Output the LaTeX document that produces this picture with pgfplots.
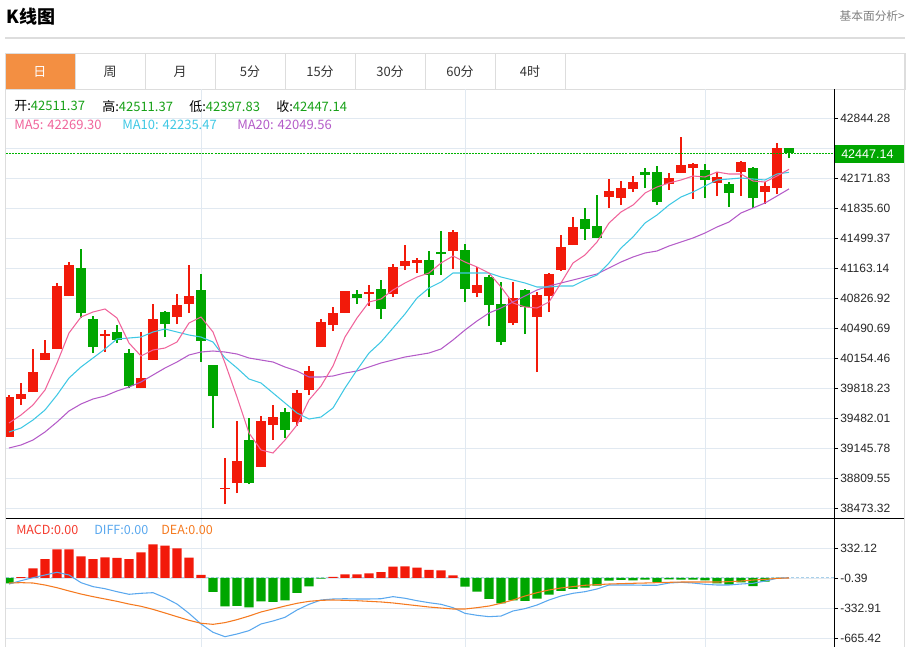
\documentclass[border=0pt]{standalone}
\usepackage{pgfplots}
\pgfplotsset{compat=1.18}
\usepackage{pgfplotstable}
\usepackage{fontspec}
\setmainfont{Noto Sans CJK SC}
\newfontfamily\lib{Liberation Sans}
\definecolor{cred}{HTML}{F21A0A}
\definecolor{cgreen}{HTML}{00A600}
\definecolor{cdash}{HTML}{00B400}
\definecolor{cma5}{HTML}{F0649B}
\definecolor{cma10}{HTML}{40C8E4}
\definecolor{cma20}{HTML}{B45CC8}
\definecolor{cdiff}{HTML}{5AA8EE}
\definecolor{cdea}{HTML}{F57A20}
\definecolor{gridc}{HTML}{E1E9F1}
\definecolor{tabor}{HTML}{F38F42}
\definecolor{borderc}{HTML}{DDDDDD}
\definecolor{valgreen}{HTML}{16A016}
\definecolor{txt}{HTML}{333333}
\definecolor{zeroc}{HTML}{A8D0EA}

\pgfplotstableread{
i o h l c
0 39269.1 39739.8 39269.1 39717.4
1 39695.0 39874.3 39627.7 39751.0
2 39773.4 40255.4 39773.4 39997.6
3 40132.1 40356.2 40132.1 40210.5
4 40255.4 40995.1 40255.4 40961.4
5 40849.4 41230.4 40849.4 41196.8
8 40401.1 40468.3 40221.7 40423.5
11 39818.3 40445.9 39818.3 39930.3
12 40132.1 40759.7 40132.1 40591.6
14 40614.0 40871.8 40535.6 40748.5
15 40759.7 41196.8 40658.8 40849.4
18 38686.3 39033.7 38518.2 38697.5
19 38753.6 39448.4 38641.5 39000.1
21 38932.9 39504.5 38932.9 39448.4
22 39403.6 39627.7 39235.5 39493.3
24 39437.2 39795.9 39392.4 39762.2
25 39795.9 40064.8 39739.8 40008.8
26 40277.8 40591.6 40277.8 40558.0
27 40524.3 40726.1 40457.1 40658.8
28 40658.8 40905.4 40658.8 40905.4
30 40871.8 40972.6 40737.3 40894.2
32 40871.8 41208.0 40838.1 41174.4
33 41185.6 41420.9 41140.7 41241.6
34 41219.2 41275.2 41107.1 41252.8
37 41353.7 41589.1 41152.0 41566.6
39 40883.0 41174.4 40838.1 40972.6
42 40546.8 41006.3 40524.3 40826.9
44 40614.0 40894.2 39997.6 40860.6
45 40849.4 41107.1 40670.0 41095.9
46 41140.7 41533.0 41129.6 41398.5
47 41420.9 41734.8 41420.9 41622.7
50 41958.9 42160.6 41835.6 42026.2
51 41947.7 42138.2 41869.2 42059.8
52 42048.6 42194.3 42014.9 42127.0
55 42104.6 42227.9 42037.4 42171.8
56 42227.9 42631.4 42227.9 42317.5
57 42283.9 42340.0 41936.5 42328.8
59 42115.8 42239.1 41970.1 42183.1
61 42239.1 42362.4 41970.1 42351.2
63 42014.9 42127.0 41880.5 42082.2
64 42059.8 42564.1 41992.5 42508.1
}\upTab

\pgfplotstableread{
i o h l c
6 41163.1 41376.1 40602.8 40658.8
7 40591.6 40625.2 40210.5 40277.8
9 40445.9 40524.3 40322.6 40356.2
10 40210.5 40255.4 39818.3 39840.7
13 40670.0 40681.3 40389.9 40535.6
16 40916.6 41095.9 40109.7 40345.0
17 40076.0 40076.0 39370.0 39728.6
20 39235.5 39482.0 38742.3 38753.6
23 39549.3 39594.1 39257.9 39347.6
29 40871.8 40916.6 40759.7 40826.9
31 40927.8 41028.7 40591.6 40703.6
35 41252.8 41353.7 40838.1 41084.7
36 41342.5 41577.9 41084.7 41320.1
38 41364.9 41432.2 40782.1 40927.8
40 41062.3 41084.7 40513.1 40748.5
41 40759.7 41006.3 40300.2 40333.8
43 40916.6 40927.8 40423.5 40726.1
48 41712.3 41835.6 41477.0 41600.3
49 41633.9 41981.3 41499.4 41499.4
53 42239.1 42283.9 42059.8 42205.5
54 42239.1 42306.3 41869.2 41902.9
58 42261.5 42328.8 41947.7 42149.4
60 42104.6 42127.0 41846.8 42003.7
62 42283.9 42295.1 41835.6 41947.7
65 42511.37 42511.37 42397.83 42447.14
}\dnTab

\pgfplotstableread{
i ma5 ma10 ma20 macd dif dea
0 39426.0 39325.1 39145.8 -59 -67 -56
1 39515.7 39370.0 39179.4 10 -30 -52
2 39627.7 39459.6 39235.5 107 3 -56
3 39795.9 39571.7 39325.1 210 33 -78
4 40098.5 39739.8 39437.2 318 63 -108
5 40434.7 39930.3 39560.5 318 33 -144
6 40614.0 40053.6 39639.0 240 -52 -178
7 40670.0 40154.5 39695.0 210 -96 -207
8 40703.6 40255.4 39728.6 229 -119 -233
9 40602.8 40367.4 39784.7 222 -152 -259
10 40322.6 40378.6 39829.5 210 -181 -289
11 40176.9 40389.9 39885.5 284 -170 -314
12 40244.2 40445.9 39964.0 373 -163 -348
13 40266.6 40479.5 40042.4 358 -219 -388
14 40333.8 40445.9 40109.7 329 -289 -429
15 40546.8 40412.3 40188.1 225 -392 -469
16 40614.0 40389.9 40221.7 33 -510 -502
17 40445.9 40333.8 40233.0 -155 -602 -514
18 40098.5 40154.5 40221.7 -314 -651 -495
19 39717.4 40042.4 40199.3 -310 -621 -462
20 39313.9 39919.1 40154.5 -325 -584 -422
21 39123.4 39874.3 40132.1 -259 -510 -377
22 39089.8 39762.2 40109.7 -266 -477 -344
23 39235.5 39650.2 40053.6 -248 -436 -311
24 39403.6 39538.1 40008.8 -166 -355 -281
25 39683.8 39470.8 39941.6 -92 -292 -259
26 39840.7 39493.3 39941.6 -7 -244 -248
27 40064.8 39594.1 39952.8 11 -233 -244
28 40389.9 39818.3 39986.4 41 -230 -248
29 40602.8 40020.0 40008.8 41 -233 -252
30 40782.1 40210.5 40053.6 52 -233 -259
31 40815.7 40333.8 40098.5 66 -230 -266
32 40916.6 40490.7 40132.1 126 -207 -277
33 40995.1 40647.6 40165.7 129 -225 -292
34 41062.3 40826.9 40188.1 115 -252 -307
35 41107.1 40939.0 40210.5 89 -274 -322
36 41219.2 41006.3 40255.4 85 -292 -333
37 41297.7 41107.1 40356.2 30 -329 -344
38 41230.4 41107.1 40468.3 -96 -392 -344
39 41174.4 41107.1 40569.2 -151 -414 -329
40 41107.1 41107.1 40658.8 -233 -429 -311
41 40950.2 41062.3 40714.9 -281 -422 -281
42 40770.9 41028.7 40782.1 -248 -366 -244
43 40726.1 40995.1 40849.4 -255 -340 -200
44 40714.9 40950.2 40916.6 -229 -300 -163
45 40782.1 40950.2 40961.4 -185 -244 -133
46 40995.1 40961.4 40995.1 -144 -200 -111
47 41219.2 40961.4 41028.7 -122 -170 -96
48 41308.9 41028.7 41062.3 -107 -152 -81
49 41454.6 41084.7 41095.9 -85 -122 -74
50 41667.5 41219.2 41163.1 -30 -78 -67
51 41790.8 41387.3 41230.4 -22 -78 -63
52 41869.2 41510.6 41286.5 -26 -78 -59
53 42003.7 41667.5 41331.3 -18 -81 -56
54 42071.0 41757.2 41353.7 -44 -81 -52
55 42115.8 41869.2 41409.7 -15 -56 -48
56 42149.4 41958.9 41454.6 -18 -48 -45
57 42194.3 42014.9 41499.4 -18 -56 -45
58 42183.1 42082.2 41555.4 -26 -70 -45
59 42239.1 42149.4 41622.7 -59 -78 -45
60 42216.7 42160.6 41678.7 -74 -78 -41
61 42216.7 42171.8 41779.6 -48 -67 -34
62 42138.2 42160.6 41835.6 -89 -59 -23
63 42127.0 42149.4 41891.7 -41 -34 -15
64 42194.3 42216.7 41970.1 -7 -4 -4
65 42269.30 42235.47 42049.56 0 3 0
}\mainTab

\pgfplotstableread{
x y
-0.25 42447.14
68.75 42447.14
}\lastTab

\begin{document}
\begin{tikzpicture}
\useasboundingbox (0,0) rectangle (681pt,-485.25pt);
\begin{scope}[x=0.75pt,y=-0.75pt]
  % title
  \node[anchor=west, inner sep=0, font=\bfseries\fontsize{13.5}{15}\selectfont] at (6,17) {K线图};
  \node[anchor=east, inner sep=0, text=black!50, font=\fontsize{8.8}{10}\selectfont] at (905,16) {基本面分析>};
  \draw[borderc, line width=1.2pt] (5,38) -- (905,38);
  % container borders
  \draw[borderc, line width=0.75pt] (5,53) -- (5,647);
  \draw[borderc, line width=0.75pt] (904,53) -- (904,647);
  % tabs
  \fill[tabor] (5,53) rectangle (75,89);
  \draw[borderc, line width=0.75pt] (5,53) rectangle (905,89);
  \foreach \x in {75,145,215,285,355,425,495,565} \draw[borderc, line width=0.75pt] (\x,53) -- (\x,89);
  \node[text=white, font=\fontsize{9.75}{11}\selectfont] at (40,71.5) {日};
  \foreach \x/\t in {110/周,180/月,250/5分,320/15分,390/30分,460/60分,530/4时}
    \node[text=txt, font=\fontsize{9.75}{11}\selectfont] at (\x,71.5) {\t};
\end{scope}

\begin{axis}[
  at={(4.5pt,-388.5pt)}, anchor=south west, scale only axis,
  width=621pt, height=321.75pt,
  xmin=-0.25, xmax=68.75, ymin=38361.28, ymax=43169.3,
  axis line style={draw=none},
  scaled y ticks=false, scaled x ticks=false,
  xtick={16,38,58}, xticklabels={}, xtick style={draw=none},
  xmajorgrids, ymajorgrids, grid style={gridc, line width=0.75pt},
  ytick={38473.32,38809.55,39145.78,39482.01,39818.23,40154.46,40490.69,40826.92,41163.14,41499.37,41835.60,42171.83,42508.05,42844.28},
  yticklabels={38473.32,38809.55,39145.78,39482.01,39818.23,40154.46,40490.69,40826.92,41163.14,41499.37,41835.60,42171.83,{},42844.28},
  ytick pos=right, yticklabel pos=right, tick align=outside,
  major tick length=3pt,
  ytick style={draw=black, line width=0.6pt},
  yticklabel style={font=\lib\fontsize{9}{10}\selectfont, inner sep=0pt, xshift=1.5pt, text=black!85},
]
% wicks
\addplot[draw=none, mark=none, forget plot,
  error bars/.cd, y dir=plus, y explicit, error mark=none,
  error bar style={draw=cred, line width=0.9pt}]
  table[x=i, y=l, y error plus expr=\thisrow{h}-\thisrow{l}] {\upTab};
\addplot[draw=none, mark=none, forget plot,
  error bars/.cd, y dir=plus, y explicit, error mark=none,
  error bar style={draw=cgreen, line width=0.9pt}]
  table[x=i, y=l, y error plus expr=\thisrow{h}-\thisrow{l}] {\dnTab};
% bodies
\addplot[draw=none, mark=none, forget plot,
  error bars/.cd, y dir=plus, y explicit, error mark=none,
  error bar style={draw=cred, line width=6.9pt}]
  table[x=i, y=o, y error plus expr=\thisrow{c}-\thisrow{o}] {\upTab};
\addplot[draw=none, mark=none, forget plot,
  error bars/.cd, y dir=plus, y explicit, error mark=none,
  error bar style={draw=cgreen, line width=6.9pt}]
  table[x=i, y=c, y error plus expr=\thisrow{o}-\thisrow{c}] {\dnTab};
% moving averages
\addplot[cma20, line width=0.8pt, mark=none] table[x=i, y=ma20] {\mainTab};
\addplot[cma10, line width=0.8pt, mark=none] table[x=i, y=ma10] {\mainTab};
\addplot[cma5, line width=0.8pt, mark=none] table[x=i, y=ma5] {\mainTab};
\end{axis}

% overlay axis for the last-close reference line
\begin{axis}[
  at={(4.5pt,-388.5pt)}, anchor=south west, scale only axis,
  width=621pt, height=321.75pt,
  xmin=-0.25, xmax=68.75, ymin=38361.28, ymax=43169.3,
  hide axis,
]
\addplot[cdash, line width=0.8pt, dash pattern=on 1.5pt off 0.8pt, mark=none] table[x=x, y=y] {\lastTab};
\end{axis}

\begin{axis}[
  at={(4.5pt,-485.25pt)}, anchor=south west, scale only axis,
  width=621pt, height=96.75pt,
  xmin=-0.25, xmax=68.75, ymin=-765.2, ymax=664.6,
  axis line style={draw=none},
  scaled y ticks=false, scaled x ticks=false,
  xtick={16,38,58}, xticklabels={}, xtick style={draw=none},
  xmajorgrids, ymajorgrids, grid style={gridc, line width=0.75pt},
  ytick={-665.42,-332.91,-0.39,332.12},
  yticklabels={-665.42,-332.91,-0.39,332.12},
  ytick pos=right, yticklabel pos=right, tick align=outside,
  major tick length=3pt,
  ytick style={draw=black, line width=0.6pt},
  yticklabel style={font=\lib\fontsize{9}{10}\selectfont, inner sep=0pt, xshift=1.5pt, text=black!85},
]
\addplot[zeroc, line width=0.75pt, dash pattern=on 2.25pt off 1.5pt, mark=none] coordinates {(-0.25,0) (68.75,0)};
\addplot[ybar, bar width=6.9pt, bar shift=0pt, fill=cred, draw=none, restrict y to domain=0.5:2000] table[x=i, y=macd] {\mainTab};
\addplot[ybar, bar width=6.9pt, bar shift=0pt, fill=cgreen, draw=none, restrict y to domain=-2000:-0.5] table[x=i, y=macd] {\mainTab};
\addplot[cdiff, line width=0.8pt, mark=none] table[x=i, y=dif] {\mainTab};
\addplot[cdea, line width=0.8pt, mark=none] table[x=i, y=dea] {\mainTab};
\end{axis}

\begin{scope}[x=0.75pt,y=-0.75pt]
  \draw[black, line width=0.75pt] (834,89) -- (834,647);
  \draw[black, line width=0.75pt] (6,518) -- (904,518);
  % last price label
  \fill[cgreen] (835,145) rectangle (904,162.5);
  \node[anchor=west, inner sep=0, text=white, font=\lib\fontsize{9.4}{10}\selectfont] at (841,154) {42447.14};
  % info text
  \begin{scope}[every node/.style={anchor=west, inner sep=0, font=\fontsize{9.75}{11}\selectfont}]
    \node at (14,106.5) {开:\textcolor{valgreen}{42511.37}};
    \node at (102,106.5) {高:\textcolor{valgreen}{42511.37}};
    \node at (189,106.5) {低:\textcolor{valgreen}{42397.83}};
    \node at (276,106.5) {收:\textcolor{valgreen}{42447.14}};
    \node[text=cma5] at (14,124.5) {MA5: 42269.30};
    \node[text=cma10] at (122,124.5) {MA10: 42235.47};
    \node[text=cma20] at (237,124.5) {MA20: 42049.56};
  \end{scope}
  \begin{scope}[every node/.style={anchor=west, inner sep=0, font=\fontsize{9.4}{11}\selectfont}]
    \node[text=cred!85!white] at (16,529.5) {MACD:0.00};
    \node[text=cdiff] at (94,529.5) {DIFF:0.00};
    \node[text=cdea] at (161,529.5) {DEA:0.00};
  \end{scope}
\end{scope}
\end{tikzpicture}
\end{document}
